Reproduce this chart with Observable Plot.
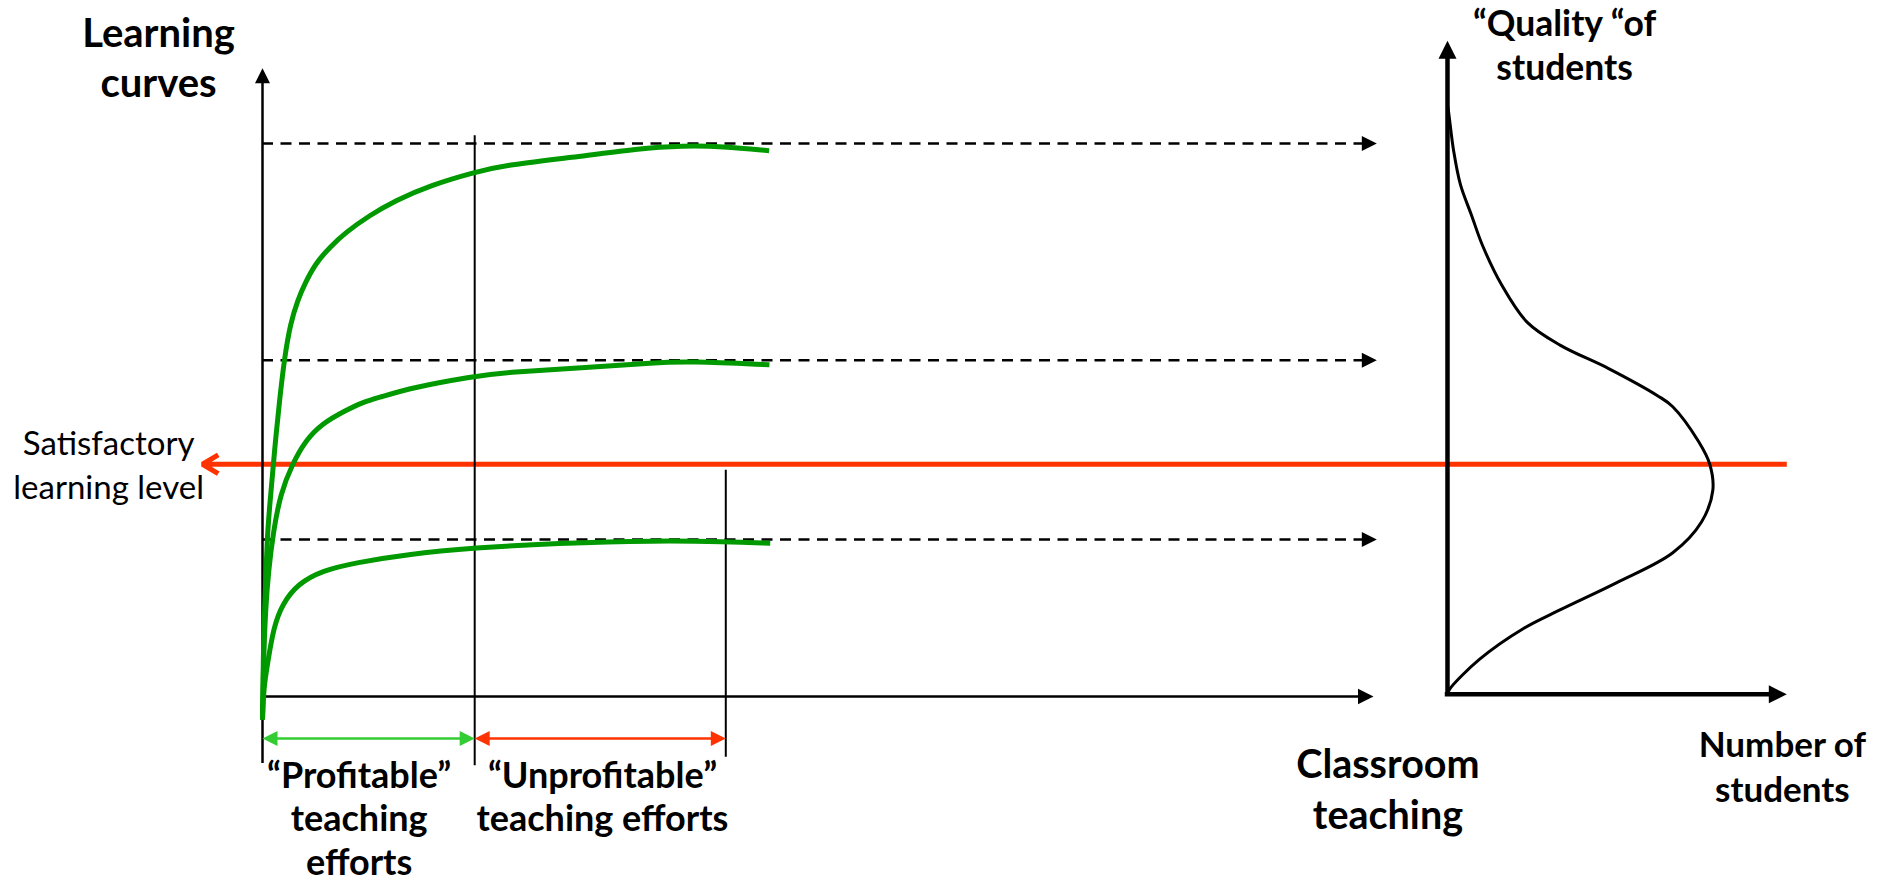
<!DOCTYPE html>
<html><head><meta charset="utf-8">
<script src="https://cdn.jsdelivr.net/npm/d3@7"></script>
<script src="https://cdn.jsdelivr.net/npm/@observablehq/plot@0.6"></script>
<style>
html,body{margin:0;padding:0;background:#fff;overflow:hidden;}
#chart svg{display:block;}
</style></head><body><div id="chart"></div>
<script>
// ---------- DATA (x: teaching effort units, y: learning level / quality units) ----------
const curveNames = ["high", "medium", "low"];

const highEffort = [0, 0.09, 0.27, 0.45, 0.72, 1.08, 1.53, 1.98, 2.52, 3.15, 3.87, 4.77, 6.03, 7.47, 9.63, 11.97, 15.03, 19.08, 21.6, 27.9, 33.9, 37.8, 41.4, 45.6];
const highLevel  = [-4.16, 10.1, 20.1, 30.0, 36.0, 44.5, 53.5, 61.3, 67.5, 71.6, 74.9, 78.3, 81.2, 83.9, 87.0, 89.7, 92.4, 94.8, 96.0, 97.5, 99.1, 99.6, 99.5, 98.7];

const mediumEffort = [0, 0.09, 0.27, 0.54, 0.99, 1.62, 2.70, 3.87, 5.40, 7.47, 9.00, 10.53, 13.50, 19.08, 21.6, 29.34, 35.37, 38.34, 45.63];
const mediumLevel  = [-4.16, 6.5, 15.6, 22.8, 30.0, 36.7, 42.1, 46.3, 49.4, 51.7, 53.2, 54.1, 55.9, 57.9, 58.6, 59.5, 60.4, 60.6, 60.0];

const lowEffort = [0, 0.1, 0.5, 1.0, 1.8, 3.2, 5.4, 8.4, 12.9, 19.1, 26.4, 35.4, 41.7, 45.7];
const lowLevel  = [-4.16, 1.6, 6.5, 12.5, 16.8, 20.4, 22.8, 24.2, 25.7, 26.9, 27.7, 28.2, 28.0, 27.7];

const plateauLevels = [100, 60.8, 28.4];      // where each curve levels off
const satisfactoryLevel = 42.0;
const profitableEnd = 19.1;                    // effort where "profitable" zone ends
const unprofitableEnd = 41.7;                  // effort where "unprofitable" zone ends

// distribution of student quality (right panel)
const studentCount = [0, 0.3, 1.8, 3.8, 7.1, 10.3, 15.9, 23.6, 33.3, 47.5, 61.9, 66.4, 74.0, 77.3, 78.2, 74.9, 66.4, 49.9, 33.3, 22.4, 9.4, 0.6, 0];
const studentQuality = [106.9, 105.8, 98.7, 92.6, 87.0, 81.6, 74.5, 67.6, 63.5, 59.3, 54.4, 52.4, 46.1, 42.0, 37.3, 31.6, 26.0, 20.6, 15.7, 12.3, 6.7, 1.3, 0.4];

// text
const learningTitle = ["Learning", "curves"];
const effortTitle = ["Classroom", "teaching"];
const qualityTitle = ["\u201CQuality \u201Cof", "students"];
const countTitle = ["Number of", "students"];
const satisfactoryLabel = ["Satisfactory", "learning level"];
const profitableLabel = ["\u201CProfitable\u201D", "teaching", "efforts"];
const unprofitableLabel = ["\u201CUnprofitable\u201D", "teaching efforts"];

// ---------- build tables ----------
const curveTable = [
  ...highEffort.map((e, i) => ({curve: curveNames[0], effort: e, level: highLevel[i]})),
  ...mediumEffort.map((e, i) => ({curve: curveNames[1], effort: e, level: mediumLevel[i]})),
  ...lowEffort.map((e, i) => ({curve: curveNames[2], effort: e, level: lowLevel[i]}))
];
const distTable = studentCount.map((n, i) => ({n, q: studentQuality[i]}));

// right panel shares the y scale; its student-count axis sits to the right of the effort axis
const studentOrigin = 106.66;
const studentUnit = 0.3054;
const studentX = (n) => studentOrigin + n * studentUnit;

function linesAt(lines, x, firstBaseline, step) {
  return lines.map((t, i) => ({t, x, y: firstBaseline - i * step}));
}

const triangle = (dir) => ({
  draw(ctx, size) {
    const r = Math.sqrt(size / Math.PI);
    const L = 2.5 * r, W = 1.25 * r;
    ctx.moveTo(0, 0);
    if (dir === "right") { ctx.lineTo(-L, -W); ctx.lineTo(-L, W); }
    else if (dir === "left") { ctx.lineTo(L, -W); ctx.lineTo(L, W); }
    else { ctx.lineTo(-W, L); ctx.lineTo(W, L); }
    ctx.closePath();
  }
});
const triR = triangle("right"), triL = triangle("left"), triU = triangle("up");

const RED = "#ff3300", GREEN = "#009900", LIGHT = "#33cc33";
const FONT = "Lato";

const labelText = (data, size, weight = 700) => Plot.text(data, {
  x: "x", y: "y", text: "t", fontFamily: FONT, fontWeight: weight, fontSize: size,
  fill: "black", textAnchor: "middle", lineAnchor: "bottom"
});

const chart = Plot.plot({
  width: 1882,
  height: 883,
  margin: 0,
  style: {background: "white", fontFamily: FONT},
  x: {domain: [0, 100], range: [262, 1373], axis: null},
  y: {domain: [0, 100], range: [696, 143], axis: null},
  marks: [
    // satisfactory level (red, pointing left)
    Plot.arrow([satisfactoryLevel], {x1: studentX(100), y1: d => d, x2: -5.4, y2: d => d,
      stroke: RED, strokeWidth: 5, headLength: 5.5, headAngle: 62, strokeLinecap: "butt"}),

    // dashed plateau projections
    Plot.ruleY(plateauLevels, {x1: 0, x2: 99.2, stroke: "black", strokeWidth: 2.6, strokeDasharray: "11,7.5"}),
    Plot.dot(plateauLevels, {x: 100.3, y: d => d, symbol: triR, r: 6, fill: "black", stroke: "none"}),

    // left axes
    Plot.ruleX([0], {y1: -12.1, y2: 112, stroke: "black", strokeWidth: 2.5}),
    Plot.dot([0], {x: 0, y: 113.6, symbol: triU, r: 6, fill: "black", stroke: "none"}),
    Plot.ruleY([0], {x1: 0, x2: 99, stroke: "black", strokeWidth: 2.5}),
    Plot.dot([0], {x: 100, y: 0, symbol: triR, r: 6.2, fill: "black", stroke: "none"}),

    // zone boundaries
    Plot.ruleX([profitableEnd], {y1: -12.5, y2: 101.4, stroke: "black", strokeWidth: 2}),
    Plot.ruleX([unprofitableEnd], {y1: -11.0, y2: 40.9, stroke: "black", strokeWidth: 2}),

    // learning curves
    Plot.line(curveTable, {x: "effort", y: "level", z: "curve", stroke: GREEN, strokeWidth: 5,
      curve: "basis", strokeLinecap: "butt"}),

    // zone double arrows
    Plot.ruleY([-7.6], {x1: 0, x2: profitableEnd, insetLeft: 6, insetRight: 6, stroke: LIGHT, strokeWidth: 2.5}),
    Plot.dot([0], {x: 0, y: -7.6, symbol: triL, r: 6, fill: LIGHT, stroke: "none"}),
    Plot.dot([0], {x: profitableEnd, y: -7.6, symbol: triR, r: 6, fill: LIGHT, stroke: "none"}),
    Plot.ruleY([-7.6], {x1: profitableEnd, x2: unprofitableEnd, insetLeft: 6, insetRight: 6, stroke: RED, strokeWidth: 2.5}),
    Plot.dot([0], {x: profitableEnd, y: -7.6, symbol: triL, r: 6, fill: RED, stroke: "none"}),
    Plot.dot([0], {x: unprofitableEnd, y: -7.6, symbol: triR, r: 6, fill: RED, stroke: "none"}),

    // right panel axes
    Plot.ruleX([studentX(0)], {y1: 0, y2: 116, stroke: "black", strokeWidth: 4.5}),
    Plot.dot([0], {x: studentX(0), y: 118.6, symbol: triU, r: 7.2, fill: "black", stroke: "none"}),
    Plot.ruleY([0.4], {x1: studentX(0) - 0.2, x2: studentX(95), stroke: "black", strokeWidth: 4.5}),
    Plot.dot([0], {x: studentX(100), y: 0.4, symbol: triR, r: 7.2, fill: "black", stroke: "none"}),

    // distribution of students
    Plot.line(distTable, {x: d => studentX(d.n), y: "q", stroke: "black", strokeWidth: 3, curve: "catmull-rom"}),

    // labels
    labelText(linesAt(learningTitle, -9.36, 117.4, 9.04), 40),
    labelText(linesAt(effortTitle, 101.3, -14.8, 9.22), 39.5),
    labelText(linesAt(qualityTitle, 117.2, 119.5, 7.96), 35.5),
    labelText(linesAt(countTitle, 136.8, -11.0, 8.14), 35),
    labelText(linesAt(profitableLabel, 8.7, -16.6, 7.8), 36),
    labelText(linesAt(unprofitableLabel, 30.6, -16.6, 7.8), 36),
    labelText(linesAt(satisfactoryLabel, -13.85, 43.6, 7.8), 33, 400)
  ]
});
document.getElementById("chart").appendChild(chart);
</script>
</body></html>
